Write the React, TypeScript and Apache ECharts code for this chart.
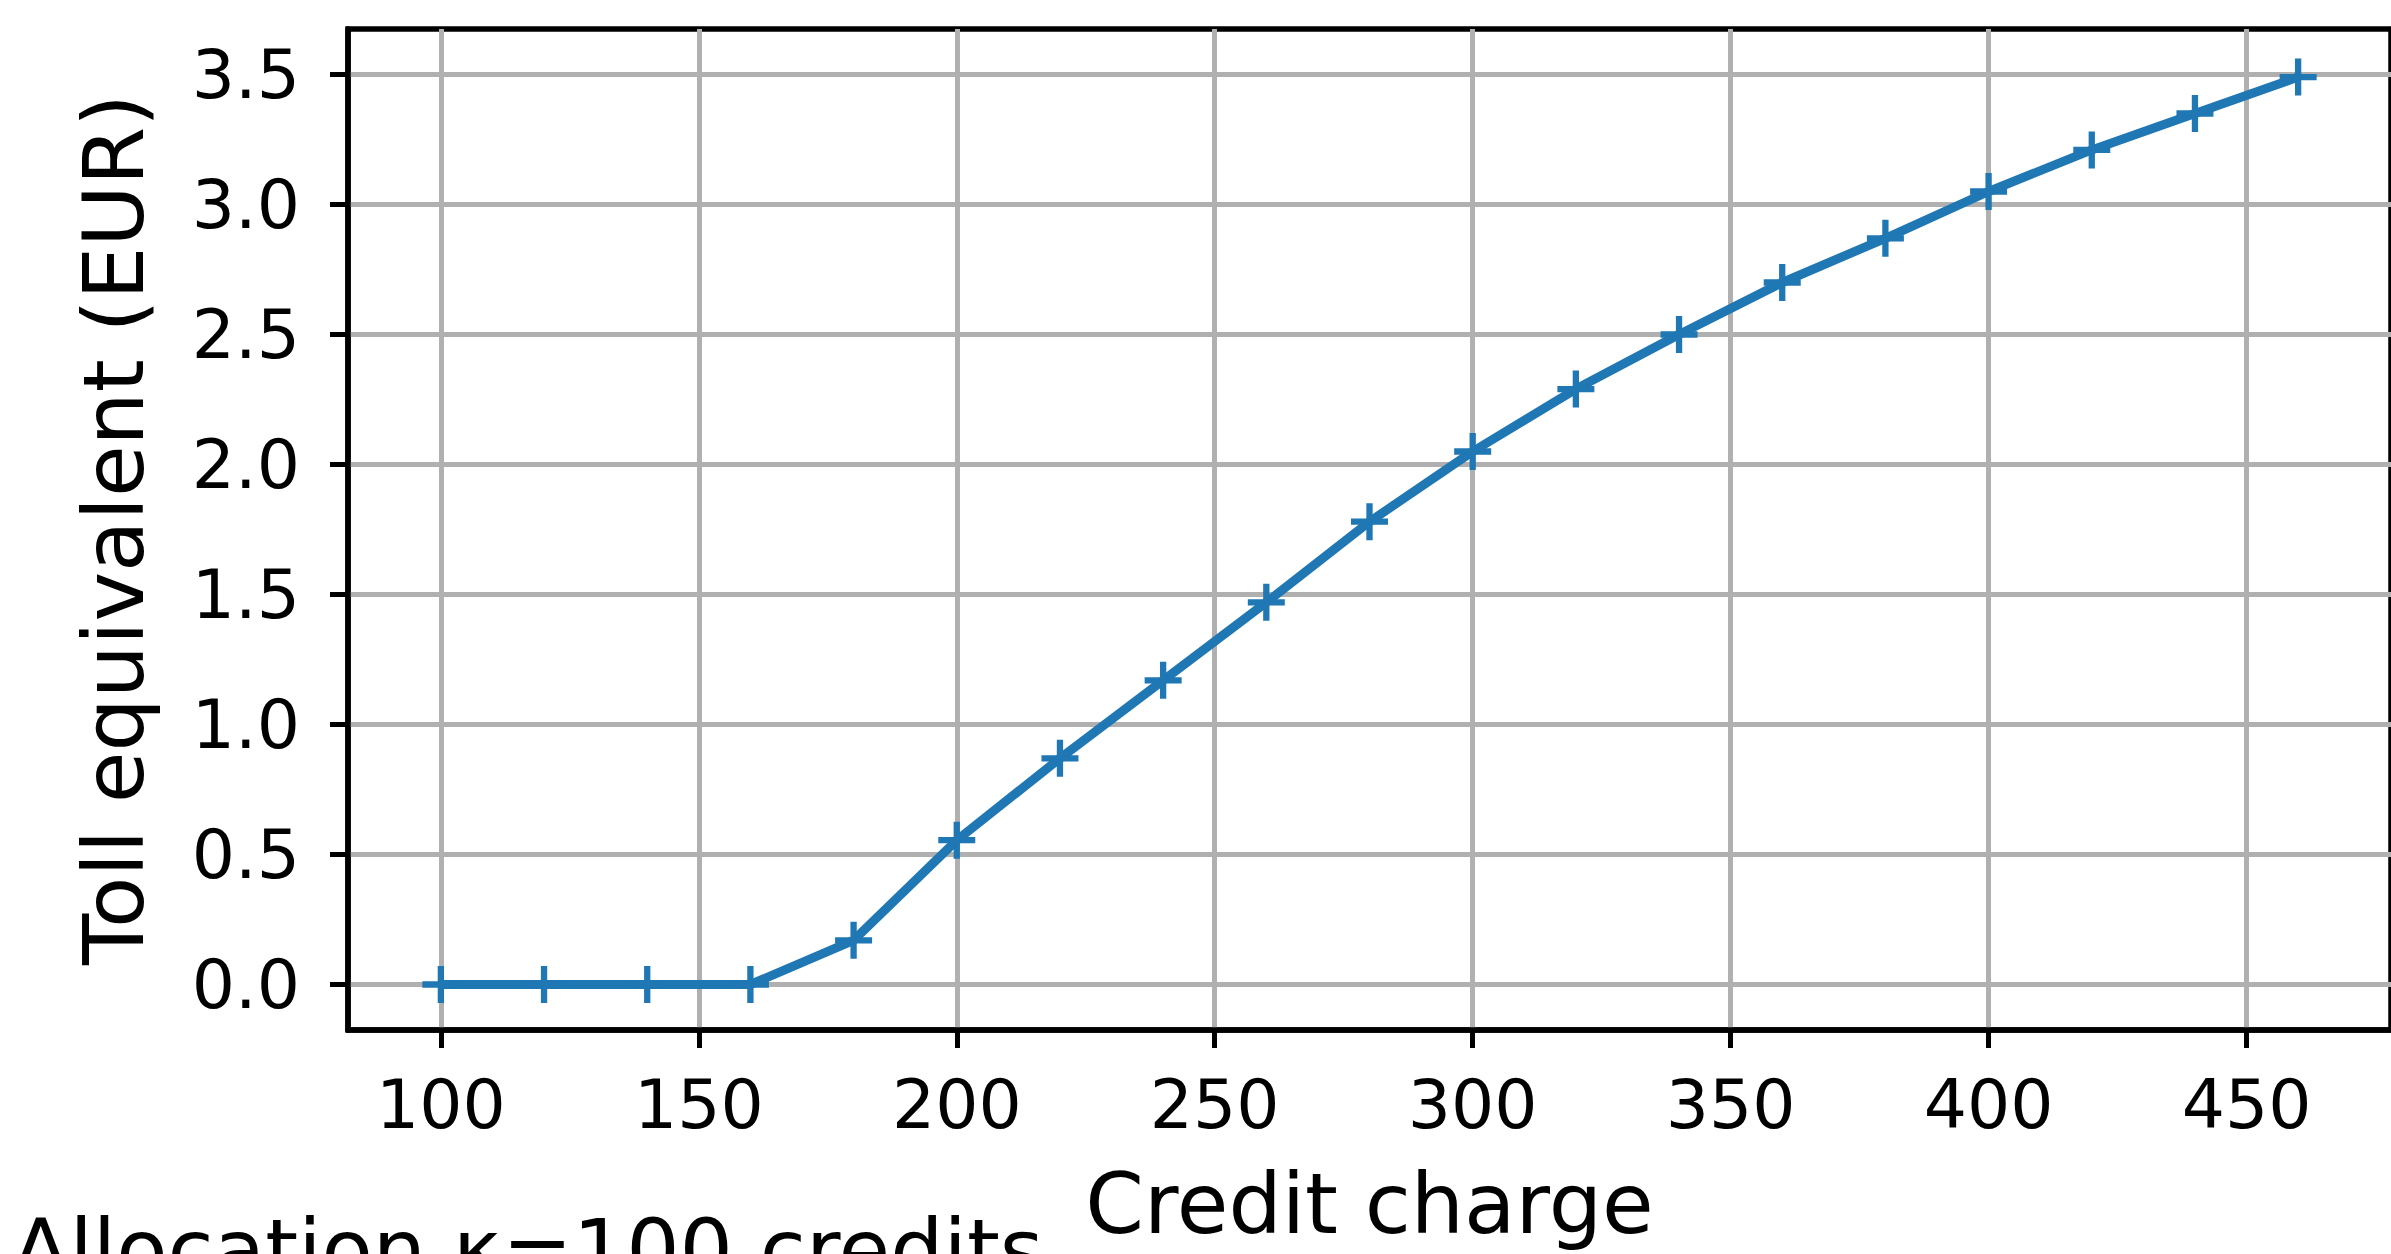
import React, { useEffect, useRef } from "react";
import * as echarts from "echarts";

const creditCharge = [100, 120, 140, 160, 180, 200, 220, 240, 260, 280, 300, 320, 340, 360, 380, 400, 420, 440, 460];
const tollEquivalent = [0, 0, 0, 0, 0.17, 0.555, 0.87, 1.17, 1.47, 1.78, 2.05, 2.29, 2.5, 2.7, 2.87, 3.05, 3.21, 3.35, 3.49];
const xTicks = [100, 150, 200, 250, 300, 350, 400, 450];
const yTicks = [0, 0.5, 1, 1.5, 2, 2.5, 3, 3.5];
const xTitle = "Credit charge";
const yTitle = "Toll equivalent (EUR)";
const footnote = "Allocation \u03ba=100 credits";

const FONT = "'DejaVu Sans', sans-serif";
const BLUE = "#1f77b4";
const h = 0.17;
const PLUS = `path://M${-h},-1 L${h},-1 L${h},${-h} L1,${-h} L1,${h} L${h},${h} L${h},1 L${-h},1 L${-h},${h} L-1,${h} L-1,${-h} L${-h},${-h} Z`;

export default function App() {
  const ref = useRef<HTMLDivElement>(null);
  useEffect(() => {
    if (!ref.current) return;
    const chart = echarts.init(ref.current, null, { renderer: "svg" });
    chart.setOption({
      animation: false,
      backgroundColor: "#ffffff",
      grid: {
        left: 348,
        top: 29,
        width: 2051,
        height: 1001,
        show: true,
        borderColor: "#000000",
        borderWidth: 5.5,
        backgroundColor: "transparent",
      },
      xAxis: {
        type: "value",
        min: 82,
        max: 478,
        name: xTitle,
        nameLocation: "middle",
        nameGap: 132,
        nameTextStyle: { fontFamily: FONT, fontSize: 84, color: "#000" },
        axisLine: { show: true, onZero: false, lineStyle: { color: "#000", width: 5.5 } },
        axisTick: { show: true, customValues: xTicks, length: 18, lineStyle: { color: "#000", width: 5 } },
        axisLabel: { customValues: xTicks, margin: 40, fontFamily: FONT, fontSize: 68, color: "#000" },
        splitLine: { show: true, lineStyle: { color: "#b0b0b0", width: 5 } },
      },
      yAxis: {
        type: "value",
        min: -0.175,
        max: 3.675,
        name: yTitle,
        nameLocation: "middle",
        nameGap: 192,
        nameTextStyle: { fontFamily: FONT, fontSize: 84, color: "#000" },
        axisLine: { show: true, onZero: false, lineStyle: { color: "#000", width: 5.5 } },
        axisTick: { show: true, customValues: yTicks, length: 18, lineStyle: { color: "#000", width: 5 } },
        axisLabel: {
          customValues: yTicks,
          margin: 48,
          fontFamily: FONT,
          fontSize: 68,
          color: "#000",
          formatter: (v: number) => v.toFixed(1),
        },
        splitLine: { show: true, lineStyle: { color: "#b0b0b0", width: 5 } },
      },
      series: [
        {
          type: "line",
          data: creditCharge.map((x, i) => [x, tollEquivalent[i]]),
          symbol: PLUS,
          symbolSize: 37,
          showSymbol: true,
          lineStyle: { color: BLUE, width: 9 },
          itemStyle: { color: BLUE, borderWidth: 0 },
          clip: false,
          z: 3,
        },
      ],
      graphic: [
        {
          type: "text",
          left: 12,
          top: 1208,
          style: { text: footnote, font: `84px ${FONT}`, fill: "#000" },
        },
      ],
    });
    return () => chart.dispose();
  }, []);
  return <div ref={ref} style={{ position: "absolute", left: 0, top: 0, width: 2391, height: 1254 }} />;
}
